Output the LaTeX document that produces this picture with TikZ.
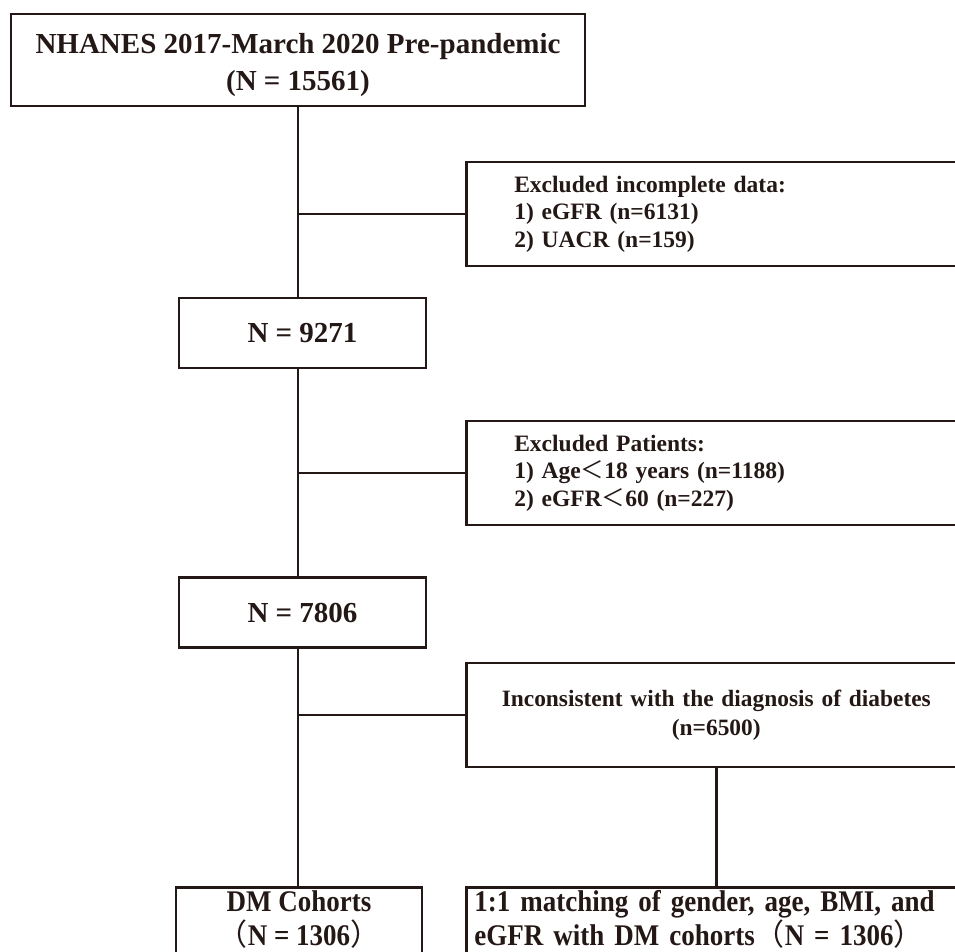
\documentclass[tikz,border=0pt]{standalone}
\usepackage{fontspec}
\setmainfont{Liberation Serif}
\newfontfamily\condfont[FakeStretch=0.9]{Liberation Serif}
\newfontfamily\cjk{Noto Sans CJK SC}
\newcommand{\fwl}{{\cjk\mdseries （}}
\newcommand{\fwr}{{\cjk\mdseries ）}}
\newcommand{\fwlt}{{\cjk\mdseries ＜}}
\newcommand{\deepstrut}{\rule[-20pt]{0pt}{1pt}}
\definecolor{ink}{RGB}{35,24,21}
\tikzset{
	box/.style={draw=ink, text=ink, line width=2.6pt, align=center, inner sep=0pt},
	bigtext/.style={font=\bfseries\fontsize{29}{37}\selectfont},
	sidebox/.style={box, anchor=west, minimum width=500pt, minimum height=104pt,
		text width=404pt, inner xsep=48pt, align=left,
		font=\bfseries\fontsize{23.5}{27.5}\selectfont},
	wire/.style={draw=ink, line width=2.6pt},
}
\begin{document}
\begin{tikzpicture}[x=1pt, y=-1pt]
	\useasboundingbox (0, 0) rectangle (955, 952);
	\clip (0, 0) rectangle (955, 952);
	% Boxes:
	\node[box, bigtext, minimum width=574pt, minimum height=92pt](top) at (298, 60){\rule{0pt}{30pt}NHANES 2017-March 2020 Pre-pandemic\\(N = 15561)};
	\node[sidebox](ex1) at (465, 214){Excluded incomplete data:\\1) eGFR (n=6131)\\2) UACR (n=159)};
	\node[box, bigtext, minimum width=247pt, minimum height=70pt](n1) at (302.5, 333){N = 9271};
	\node[sidebox](ex2) at (465, 473){Excluded Patients:\\1) Age\fwlt 18 years (n=1188)\\2) eGFR\fwlt 60 (n=227)};
	\node[box, bigtext, minimum width=247pt, minimum height=70pt](n2) at (302.5, 612.5){N = 7806};
	\node[sidebox, text width=470pt, inner xsep=15pt, align=center, font=\bfseries\fontsize{23.4}{29}\selectfont](ex3) at (465, 715){Inconsistent with the diagnosis of diabetes\\(n=6500)};
	\node[box, anchor=north, minimum width=246pt, inner ysep=3pt, font=\condfont\bfseries\fontsize{30}{34}\selectfont](dm) at (299, 886){DM Cohorts\\\fwl N = 1306\fwr\deepstrut};
	\node[box, anchor=north west, text width=484pt, inner xsep=8pt, inner ysep=3pt, align=left, font=\condfont\bfseries\fontsize{30}{34}\selectfont](match) at (465, 886){1:1 matching of gender, age, BMI, and\\eGFR with DM cohorts\fwl N = 1306\fwr\deepstrut};
	% Wires:
	\draw[wire] (top.south) -- (top.south |- n1.north);
	\draw[wire] (n1.south -| top.south) -- (n2.north -| top.south);
	\draw[wire] (n2.south -| top.south) -- (dm.north -| top.south);
	\draw[wire] (ex1.west) -- (ex1.west -| top.south);
	\draw[wire] (ex2.west) -- (ex2.west -| top.south);
	\draw[wire] (ex3.west) -- (ex3.west -| top.south);
	\draw[wire] (ex3.south) -- (ex3.south |- match.north);
\end{tikzpicture}
\end{document}
